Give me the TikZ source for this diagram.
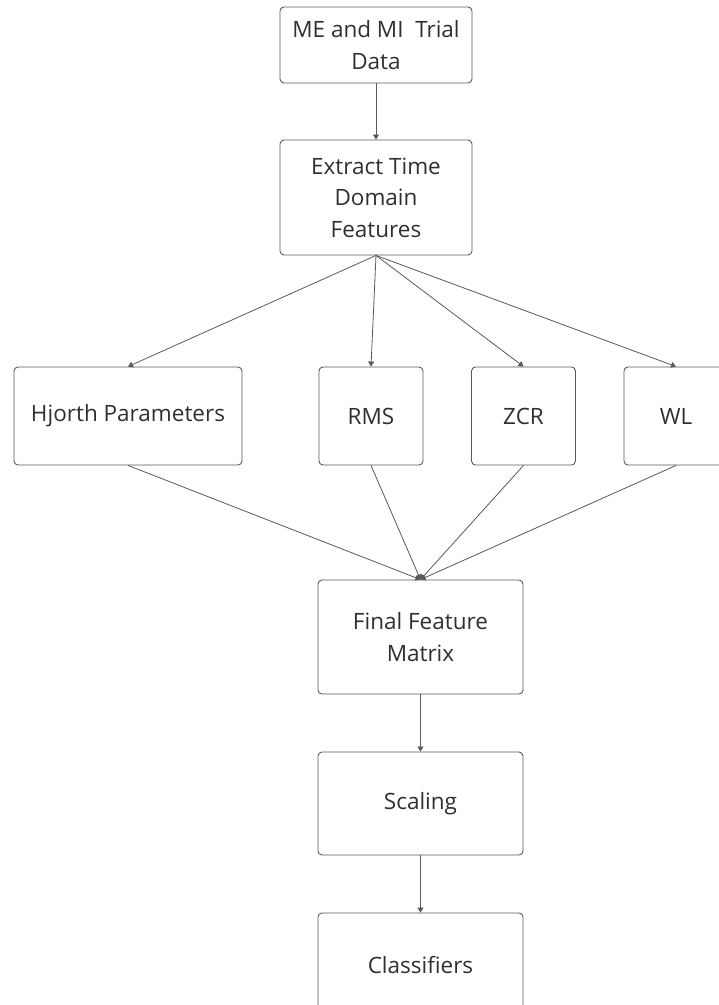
\documentclass[tikz,border=0pt]{standalone}
\usepackage{fontspec}
\setmainfont{Open Sans}
\usetikzlibrary{arrows.meta}
\definecolor{edgegray}{HTML}{5A5A5A}
\definecolor{textgray}{HTML}{303030}
\tikzset{
  stepbox/.style={draw=edgegray, line width=0.9pt, rounded corners=4pt, fill=white,
    text=textgray, align=center, inner sep=0pt,
    font=\fontsize{22.5}{31.5}\selectfont},
  flow/.style={draw=edgegray, line width=0.8pt,
    -{Triangle[width=6pt,length=5pt]}}
}
\begin{document}
\begin{tikzpicture}[x=1pt, y=-1pt]
  \useasboundingbox (0,0) rectangle (719,1005);
  \clip (0,0) rectangle (719,1005);
  \fill[white] (0,0) rectangle (719,1005);

  % pipeline boxes
  \node[stepbox, minimum width=192pt, minimum height=76pt] (data) at (376,45)
    {ME and MI\ \ Trial\\Data};
  \node[stepbox, minimum width=192pt, minimum height=115pt] (extract) at (376,197.5)
    {Extract Time\\Domain\\Features};

  % feature boxes
  \node[stepbox, minimum width=228pt, minimum height=98pt] (hjorth) at (128,416)
    {Hjorth Parameters};
  \node[stepbox, minimum width=104pt, minimum height=98pt] (rms) at (371,416) {RMS};
  \node[stepbox, minimum width=104pt, minimum height=98pt] (zcr) at (523.5,416) {ZCR};
  \node[stepbox, minimum width=104pt, minimum height=98pt] (wl) at (676,416) {WL};

  \node[stepbox, minimum width=205pt, minimum height=114pt] (matrix) at (420.5,637)
    {Final Feature\\Matrix};
  \node[stepbox, minimum width=205pt, minimum height=103pt] (scaling) at (420.5,803.5)
    {Scaling};
  \node[stepbox, minimum width=205pt, minimum height=103pt] (classif) at (420.5,964.5)
    {Classifiers};

  % connectors
  \draw[flow] (data.south) -- (extract.north);
  \draw[flow] (extract.south) -- (hjorth.north);
  \draw[flow] (extract.south) -- (rms.north);
  \draw[flow] (extract.south) -- (zcr.north);
  \draw[flow] (extract.south) -- (wl.north);
  \draw[flow] (hjorth.south) -- (matrix.north);
  \draw[flow] (rms.south) -- (matrix.north);
  \draw[flow] (zcr.south) -- (matrix.north);
  \draw[flow] (wl.south) -- (matrix.north);
  \draw[flow] (matrix.south) -- (scaling.north);
  \draw[flow] (scaling.south) -- (classif.north);
\end{tikzpicture}
\end{document}
